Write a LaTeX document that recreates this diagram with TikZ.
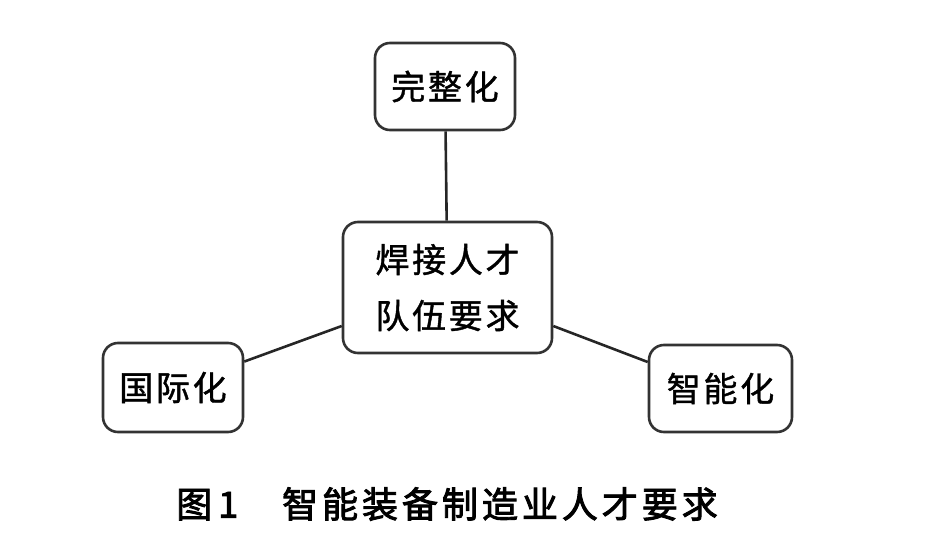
\documentclass[tikz,border=0pt]{standalone}
\usepackage{fontspec}
\newfontfamily\cjk{Noto Sans CJK SC}
\usetikzlibrary{positioning}

\begin{document}
\begin{tikzpicture}[x=1pt,y=-1pt,
		box/.style={draw=black!80,line width=2.6pt,rounded corners=15pt,inner sep=0pt,align=center,text=black,font=\cjk\fontsize{34}{56}\selectfont\addfontfeature{LetterSpace=8,FakeBold=1.2}},
		link/.style={draw=black!85,line width=2.6pt}]
	\useasboundingbox (0,0) rectangle (931,554);
	\node[box,minimum width=140pt,minimum height=87pt] (whole) at (445,86.5) {完整化};
	\node[box,minimum width=209pt,minimum height=131pt] (team) at (447.5,287.5) {焊接人才\\队伍要求};
	\node[box,minimum width=140pt,minimum height=89pt] (intl) at (173,387.5) {国际化};
	\node[box,minimum width=143pt,minimum height=87pt] (smart) at (720.5,388.5) {智能化};
	\draw[link] (whole) -- (team);
	\draw[link] (intl.20) -- (team.200);
	\draw[link] (team.340) -- (smart.160);
	\node[inner sep=0pt,font=\cjk\fontsize{36}{40}\selectfont\addfontfeature{LetterSpace=11,FakeBold=2.5}] (caption) at (447,504) {图\,1　智能装备制造业人才要求};
\end{tikzpicture}
\end{document}
